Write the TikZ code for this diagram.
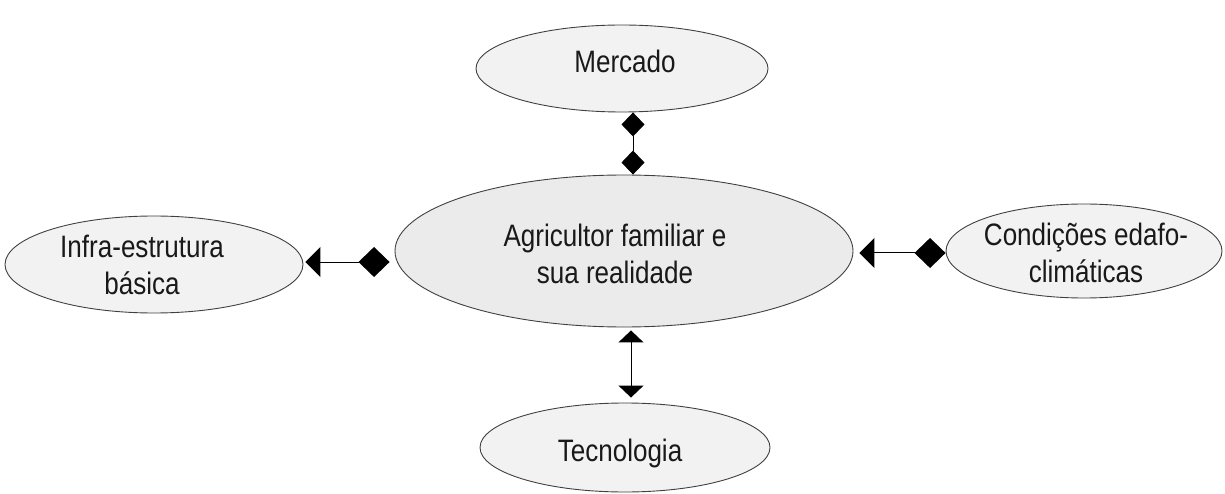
\documentclass[tikz,border=0pt]{standalone}
\usepackage{fontspec}
\setmainfont{Liberation Sans}[FakeStretch=0.84]
\usetikzlibrary{arrows.meta,shapes.geometric}
\definecolor{fillout}{HTML}{F2F2F2}
\definecolor{fillmid}{HTML}{EBEBEB}
\definecolor{edge}{HTML}{404040}
\begin{document}
\begin{tikzpicture}[x=1pt,y=-1pt,
  bub/.style={ellipse,draw=edge,line width=0.9pt,fill=fillout,inner sep=0pt},
  lbl/.style={align=center,inner sep=0pt,font=\fontsize{31}{37}\selectfont,text=black!90},
  conn/.style={line width=1pt,black}]
\useasboundingbox (0,0) rectangle (1225,494);
\node[bub,minimum width=292pt,minimum height=87pt] (m) at (622,68.5) {};
\node[bub,fill=fillmid,minimum width=458pt,minimum height=152pt] (c) at (624,251) {};
\node[bub,minimum width=298pt,minimum height=97pt] (i) at (154,264.5) {};
\node[bub,minimum width=276pt,minimum height=94pt] (k) at (1084,251) {};
\node[bub,minimum width=290pt,minimum height=89pt] (t) at (625,447.5) {};
\node[lbl] (mt) at (625,61.5) {Mercado};
\node[lbl] (ct) at (615,254) {Agricultor familiar e\\sua realidade};
\node[lbl] (it) at (142,265) {Infra-estrutura\\básica};
\node[lbl] (kt) at (1086,253) {Condições edafo-\\climáticas};
\node[lbl] (tt) at (620,453) {Tecnologia};
\coordinate (tx) at (633,0);
\coordinate (bx) at (631,0);
\coordinate (ly) at (0,262);
\coordinate (ry) at (0,253);
\draw[conn,{Diamond[length=24pt,width=23pt]}-{Diamond[length=24pt,width=23pt]}] (m.south -| tx) -- (c.north -| tx);
\draw[conn,{Diamond[length=31pt,width=30pt]}-{Triangle[length=15pt,width=30pt]},shorten <=5pt,shorten >=2pt] (c.west |- ly) -- (i.east |- ly);
\draw[conn,{Diamond[length=31pt,width=30pt]}-{Triangle[length=15pt,width=30pt]},shorten >=6pt] (k.west |- ry) -- (c.east |- ry);
\draw[conn,{Triangle[length=12pt,width=25pt]}-{Triangle[length=12pt,width=25pt]},shorten <=3pt,shorten >=5pt] (c.south -| bx) -- (t.north -| bx);
\end{tikzpicture}
\end{document}
